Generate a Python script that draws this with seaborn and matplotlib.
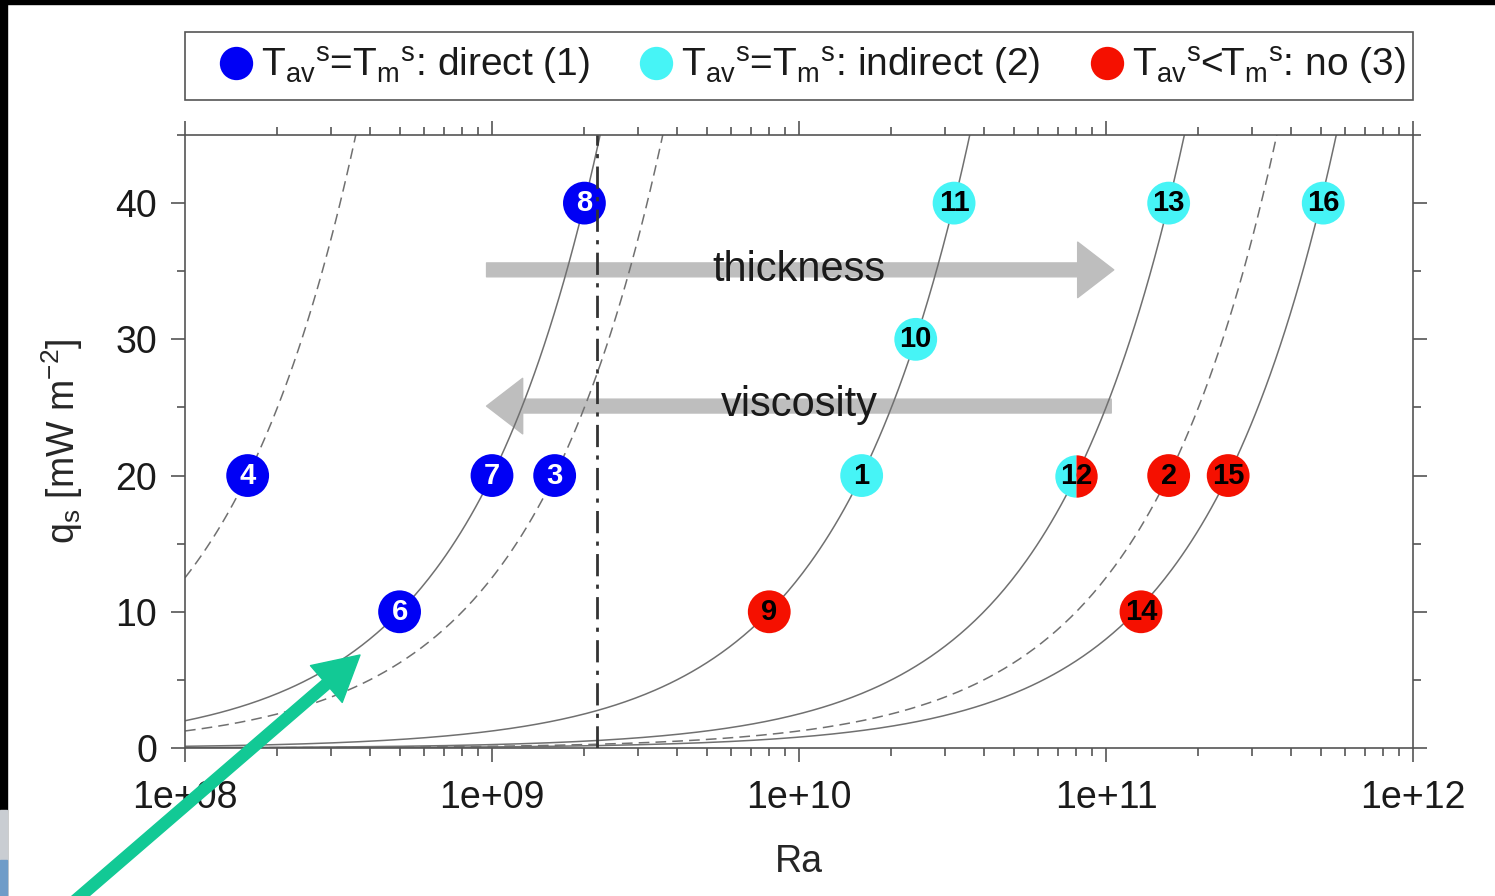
"""Recreate the q_s vs Ra regime diagram."""

import matplotlib

matplotlib.use("Agg")
import matplotlib.pyplot as plt
import numpy as np
import pandas as pd
import seaborn as sns
from matplotlib.lines import Line2D
from matplotlib.patches import Rectangle
from matplotlib.ticker import FuncFormatter, MultipleLocator

# Simulation cases
case_id = ["1", "2", "3", "4", "6", "7", "8", "9", "10", "11", "13", "14", "15", "16"]
case_ra = [1.6e10, 1.6e11, 1.6e9, 1.6e8, 5.0e8, 1.0e9, 2.0e9, 8.0e9, 2.4e10, 3.2e10,
           1.6e11, 1.3e11, 2.5e11, 5.1e11]
case_qs = [20, 20, 20, 20, 10, 20, 40, 10, 30, 40, 40, 10, 20, 40]
case_regime = ["indirect", "no", "direct", "direct", "direct", "direct", "direct", "no",
               "indirect", "indirect", "indirect", "no", "no", "indirect"]

# Case 12 sits on the boundary (half indirect / half no)
mixed_id = "12"
mixed_ra = 8.0e10
mixed_qs = 20

# Reference curves q_s ~ Ra, given by Ra where q_s = 20
curve_ra_at_20 = [1.6e8, 1.0e9, 1.6e9, 1.6e10, 8.0e10, 1.6e11, 2.5e11]
curve_kind = ["dashed", "solid", "dashed", "solid", "solid", "dashed", "solid"]

# Critical Ra (dash-dot line)
ra_crit = 2.2e9

regime_colors = {"direct": "#0000F5", "indirect": "#46F4F6", "no": "#F51000"}
label_colors = {"direct": "white", "indirect": "black", "no": "black"}
legend_labels = {
    "direct": r"T$_\mathregular{av}$$^\mathregular{s}$=T$_\mathregular{m}$$^\mathregular{s}$: direct (1)",
    "indirect": r"T$_\mathregular{av}$$^\mathregular{s}$=T$_\mathregular{m}$$^\mathregular{s}$: indirect (2)",
    "no": r"T$_\mathregular{av}$$^\mathregular{s}$<T$_\mathregular{m}$$^\mathregular{s}$: no (3)",
}

sns.set_style("ticks")
plt.rcParams["font.family"] = ["Liberation Sans", "DejaVu Sans"]
plt.rcParams["mathtext.fontset"] = "custom"
plt.rcParams["mathtext.rm"] = "Liberation Sans"

fig = plt.figure(figsize=(14.95, 8.96), dpi=100)
ax = fig.add_axes([185 / 1495, 1 - 748 / 896, 1228 / 1495, 613 / 896])

# Curves
ra_grid = np.logspace(8, 12, 500)
curve_rows = []
for i, (ra20, kind) in enumerate(zip(curve_ra_at_20, curve_kind)):
    qs = 20 * ra_grid / ra20
    keep = qs < 50
    curve_rows.append(pd.DataFrame({"Ra": ra_grid[keep], "qs": qs[keep],
                                    "curve": i, "kind": kind}))
curve_df = pd.concat(curve_rows, ignore_index=True)

sns.lineplot(
    data=curve_df, x="Ra", y="qs", units="curve", estimator=None,
    style="kind", dashes={"solid": "", "dashed": (7, 4)},
    color="#707070", linewidth=1.1, legend=False, ax=ax, zorder=2,
)

# Gray arrows
ax.annotate("", xy=(1.06e11, 35.1), xytext=(9.6e8, 35.1),
            arrowprops=dict(arrowstyle="simple,head_width=2.0,head_length=1.3,tail_width=0.5",
                            color="#BEBEBE", shrinkA=0, shrinkB=0, mutation_scale=20),
            zorder=1)
ax.annotate("", xy=(9.6e8, 25.1), xytext=(1.04e11, 25.1),
            arrowprops=dict(arrowstyle="simple,head_width=2.0,head_length=1.3,tail_width=0.5",
                            color="#BEBEBE", shrinkA=0, shrinkB=0, mutation_scale=20),
            zorder=1)
ax.text(1.0e10, 35.1, "thickness", ha="center", va="center", fontsize=30,
        color="#1a1a1a", zorder=2)
ax.text(1.0e10, 25.2, "viscosity", ha="center", va="center", fontsize=30,
        color="#1a1a1a", zorder=2)

# Cases
case_df = pd.DataFrame({"Ra": case_ra, "qs": case_qs, "regime": case_regime, "id": case_id})
sns.scatterplot(
    data=case_df, x="Ra", y="qs", hue="regime", palette=regime_colors,
    s=950, edgecolor="none", legend=False, ax=ax, zorder=3,
)
ax.plot([mixed_ra], [mixed_qs], marker="o", ls="", markersize=30.5, fillstyle="left",
        markerfacecolor=regime_colors["indirect"],
        markerfacecoloralt=regime_colors["no"], markeredgecolor="none", zorder=3)

for _, row in case_df.iterrows():
    ax.text(row["Ra"], row["qs"], row["id"], ha="center", va="center", fontsize=21,
            fontweight="bold", color=label_colors[row["regime"]], zorder=5)
ax.text(mixed_ra, mixed_qs, mixed_id, ha="center", va="center", fontsize=21,
        fontweight="bold", color="black", zorder=5)

ax.axvline(ra_crit, color="#333333", linewidth=2.0, ls=(0, (8, 3, 1.5, 3)), zorder=4)

# Axes
ax.set_xscale("log")
ax.set_xlim(1e8, 1e12)
ax.set_ylim(0, 45)
ax.set_xticks([1e8, 1e9, 1e10, 1e11, 1e12])
ax.xaxis.set_major_formatter(FuncFormatter(lambda v, p: f"{v:.0e}"))
ax.yaxis.set_major_locator(MultipleLocator(10))
ax.yaxis.set_minor_locator(MultipleLocator(5))
ax.set_xlabel("Ra", fontsize=27, labelpad=20)
ax.set_ylabel(r"q$_\mathregular{s}$ [mW m$^\mathregular{-2}$]", fontsize=27, labelpad=22)

for sp in ax.spines.values():
    sp.set_visible(True)
    sp.set_color("#555555")
    sp.set_linewidth(1.2)
ax.tick_params(which="both", direction="out", top=True, right=True,
               color="#555555", width=1.2, labelsize=27, labelcolor="#1a1a1a")
ax.tick_params(which="major", length=10)
ax.tick_params(axis="x", which="major", pad=13)
ax.tick_params(axis="y", which="major", pad=10)
ax.tick_params(which="minor", length=5.5)

# Legend (frame drawn separately to span the axes width)
handles = [Line2D([], [], marker="o", ls="", markersize=24, markerfacecolor=regime_colors[k],
                  markeredgecolor="none") for k in ["direct", "indirect", "no"]]
leg = fig.legend(
    handles, [legend_labels[k] for k in ["direct", "indirect", "no"]],
    loc="center", ncol=3, bbox_to_anchor=(811 / 1495, 1 - 66 / 896),
    fontsize=28, frameon=False, borderpad=0,
    handletextpad=0.15, handlelength=1.0, columnspacing=1.2, borderaxespad=0,
)
for t in leg.get_texts():
    t.set_color("#1a1a1a")
fig.patches.append(Rectangle((185 / 1495, 1 - 100 / 896), 1228 / 1495, 68 / 896,
                             transform=fig.transFigure, facecolor="none",
                             edgecolor="#555555", linewidth=1.2, zorder=5))

# Green pointer arrow
ax.annotate("", xy=(360, 896 - 655), xycoords="figure pixels",
            xytext=(62, 896 - 912), textcoords="figure pixels",
            arrowprops=dict(arrowstyle="simple,head_width=1.75,head_length=1.6,tail_width=0.4",
                            color="#12C995", shrinkA=0, shrinkB=0, mutation_scale=20),
            annotation_clip=False, zorder=10)

# Screenshot border
fig.patches.append(Rectangle((0, 0), 7 / 1495, 1, transform=fig.transFigure,
                             color="black", zorder=20))
fig.patches.append(Rectangle((0, 1 - 4 / 896), 1, 4 / 896, transform=fig.transFigure,
                             color="black", zorder=20))
fig.patches.append(Rectangle((0, 0), 7 / 1495, 86 / 896, transform=fig.transFigure,
                             color="#c9cdd2", zorder=21))
fig.patches.append(Rectangle((0, 0), 7 / 1495, 36 / 896, transform=fig.transFigure,
                             color="#6f9cc8", zorder=22))

fig.savefig("out.png", dpi=100)
